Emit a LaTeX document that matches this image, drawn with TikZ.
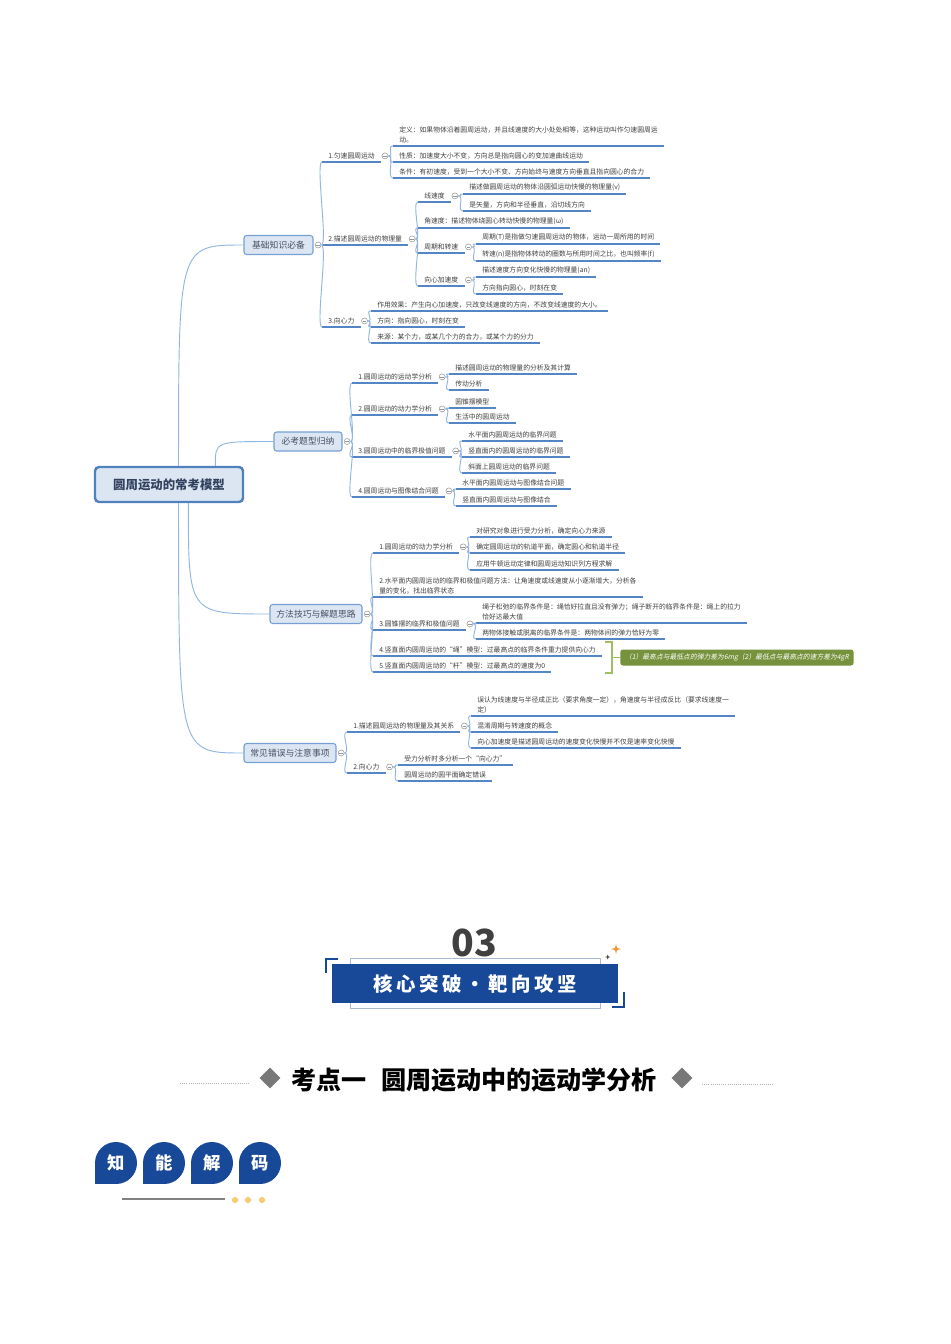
\documentclass[tikz,border=0pt]{standalone}
\usepackage{fontspec}
\usepackage{tikz}
\usetikzlibrary{positioning,shapes.geometric}
\setmainfont{Noto Sans CJK SC}
\newfontfamily\slantcjk[FakeSlant=0.2]{Noto Sans CJK SC}
\newfontfamily\spacedcjk[LetterSpace=18]{Noto Sans CJK SC}

\definecolor{txt}{RGB}{64,64,64}
\definecolor{ulblue}{RGB}{84,133,196}
\definecolor{twigblue}{RGB}{146,182,226}
\definecolor{boxfill}{RGB}{220,230,242}
\definecolor{boxline}{RGB}{118,160,212}
\definecolor{boxtxt}{RGB}{70,80,100}
\definecolor{rootline}{RGB}{79,129,189}
\definecolor{roottxt}{RGB}{50,65,95}
\definecolor{foldgray}{RGB}{150,150,150}
\definecolor{sumgreen}{RGB}{118,146,60}
\definecolor{bracegreen}{RGB}{160,190,100}
\definecolor{navy}{RGB}{24,72,152}
\definecolor{framegray}{RGB}{170,185,210}
\definecolor{dotyellow}{RGB}{248,204,110}
\definecolor{sparkorange}{RGB}{236,150,50}

\newcommand{\leaffont}{\fontsize{5.1}{7.2}\selectfont}
\newcommand{\topicfont}{\fontsize{6.6}{8}\selectfont}

\tikzset{
  ul/.style={draw=ulblue, line width=1.1pt},
  twig/.style={draw=twigblue, line width=0.7pt},
  br/.style={out=0, in=180, distance=5pt},
  elbow/.style={to path={.. controls (\tikztostart |- \tikztotarget) .. (\tikztotarget)}},
  leaf/.style={anchor=south west, inner xsep=4.5pt, inner ysep=2pt, align=left,
    font=\leaffont, text=txt,
    append after command={(\tikzlastnode.south west) edge[ul] (\tikzlastnode.south east)}},
  fold/.style={circle, draw=foldgray, line width=0.4pt, fill=white, minimum size=4.5pt, inner sep=0pt,
    path picture={\draw[foldgray, line width=0.4pt] ([xshift=0.9pt]path picture bounding box.west) -- ([xshift=-0.9pt]path picture bounding box.east);}},
  topic/.style={rectangle, rounded corners=2pt, fill=boxfill, draw=boxline, line width=0.8pt,
    minimum height=14.25pt, inner xsep=2pt, font=\topicfont, text=boxtxt},
  rootbox/.style={rectangle, rounded corners=3pt, fill=boxfill, draw=rootline, line width=1.8pt,
    minimum width=111pt, minimum height=26.25pt, font=\bfseries\fontsize{9.3}{11}\selectfont, text=roottxt},
  sumbox/.style={rectangle, rounded corners=2pt, fill=sumgreen, text=white, minimum width=175pt,
    minimum height=12pt, inner sep=0pt, font=\slantcjk\leaffont},
  sumbrace/.style={draw=bracegreen, line width=1.3pt},
  badge/.style={circle, fill=navy, minimum size=31.5pt, inner sep=0pt, text=white,
    font=\bfseries\fontsize{13}{13}\selectfont},
  dia/.style={diamond, fill={rgb,255:red,120;green,120;blue,120}, minimum width=15.75pt, minimum height=15.75pt, inner sep=0pt},
}

\begin{document}
\begin{tikzpicture}[x=0.75pt, y=-0.75pt]
        \fill[white] (0,0) rectangle (950,1344);
        \useasboundingbox (0,0) rectangle (950,1344);

        \node[rootbox] (root) at (169,484.5) {圆周运动的常考模型};
        \node[topic, minimum width=51.75pt] (base) at (278.5,245) {基础知识必备};
        \node[topic, minimum width=51pt] (must) at (308,441.5) {必考题型归纳};
        \node[topic, minimum width=69pt] (skill) at (316,614) {方法技巧与解题思路};
        \node[topic, minimum width=69pt] (error) at (290,753) {常见错误与注意事项};
        \node[fold, right=1pt of base] (basef) {};
        \node[fold, right=1pt of must] (mustf) {};
        \node[fold, right=1pt of skill] (skillf) {};
        \node[fold, right=1pt of error] (errorf) {};
        \draw[twig] (root.63) to[elbow] (base.west);
        \draw[twig] (root.22) to[elbow] (must.west);
        \draw[twig] (root.-44) to[elbow] (skill.west);
        \draw[twig] (root.-63) to[elbow] (error.west);

        \node[leaf] (a1) at (322,162) {1.匀速圆周运动};
        \node[leaf] (a2) at (322,245) {2.描述圆周运动的物理量};
        \node[leaf] (a3) at (322,327) {3.向心力};
        \node[fold, right=0.5pt of a1] (a1f) {};
        \node[fold, right=0.5pt of a2] (a2f) {};
        \node[fold, right=0.5pt of a3] (a3f) {};
        \node[leaf] (a11) at (393,146) {定义：如果物体沿着圆周运动，并且线速度的大小处处相等，这种运动叫作匀速圆周运\\动。};
        \node[leaf] (a12) at (393,162) {性质：加速度大小不变，方向总是指向圆心的变加速曲线运动};
        \node[leaf] (a13) at (393,178) {条件：有初速度，受到一个大小不变、方向始终与速度方向垂直且指向圆心的合力};
        \node[leaf] (a21) at (418,202) {线速度};
        \node[leaf] (a22) at (418,228) {角速度：描述物体绕圆心转动快慢的物理量(ω)};
        \node[leaf] (a23) at (418,253) {周期和转速};
        \node[leaf] (a24) at (418,286) {向心加速度};
        \node[fold, right=0.5pt of a21] (a21f) {};
        \node[fold, right=0.5pt of a23] (a23f) {};
        \node[fold, right=0.5pt of a24] (a24f) {};
        \node[leaf] (a211) at (463,194) {描述做圆周运动的物体沿圆弧运动快慢的物理量(v)};
        \node[leaf] (a212) at (463,211) {是矢量，方向和半径垂直，沿切线方向};
        \node[leaf] (a231) at (476,244) {周期(T)是指做匀速圆周运动的物体，运动一周所用的时间};
        \node[leaf] (a232) at (476,261) {转速(n)是指物体转动的圈数与所用时间之比，也叫频率(f)};
        \node[leaf] (a241) at (476,277) {描述速度方向变化快慢的物理量(an)};
        \node[leaf] (a242) at (476,294) {方向指向圆心，时刻在变};
        \node[leaf] (a31) at (371,311) {作用效果：产生向心加速度，只改变线速度的方向，不改变线速度的大小。};
        \node[leaf] (a32) at (371,327) {方向：指向圆心，时刻在变};
        \node[leaf] (a33) at (371,343) {来源：某个力，或某几个力的合力，或某个力的分力};
        \draw[twig] (basef.east) to[br] (a1.south west) (basef.east) to[br] (a2.south west) (basef.east) to[br] (a3.south west);
        \draw[twig] (a1f.east) to[br] (a11.south west) (a1f.east) to[br] (a12.south west) (a1f.east) to[br] (a13.south west);
        \draw[twig] (a2f.east) to[br] (a21.south west) (a2f.east) to[br] (a22.south west) (a2f.east) to[br] (a23.south west) (a2f.east) to[br] (a24.south west);
        \draw[twig] (a21f.east) to[br] (a211.south west) (a21f.east) to[br] (a212.south west);
        \draw[twig] (a23f.east) to[br] (a231.south west) (a23f.east) to[br] (a232.south west);
        \draw[twig] (a24f.east) to[br] (a241.south west) (a24f.east) to[br] (a242.south west);
        \draw[twig] (a3f.east) to[br] (a31.south west) (a3f.east) to[br] (a32.south west) (a3f.east) to[br] (a33.south west);

        \node[leaf] (b1) at (352,383) {1.圆周运动的运动学分析};
        \node[leaf] (b2) at (352,415) {2.圆周运动的动力学分析};
        \node[leaf] (b3) at (352,457) {3.圆周运动中的临界极值问题};
        \node[leaf] (b4) at (352,497) {4.圆周运动与图像结合问题};
        \node[fold, right=0.5pt of b1] (b1f) {};
        \node[fold, right=0.5pt of b2] (b2f) {};
        \node[fold, right=0.5pt of b3] (b3f) {};
        \node[fold, right=0.5pt of b4] (b4f) {};
        \node[leaf] (b11) at (449,374) {描述圆周运动的物理量的分析及其计算};
        \node[leaf] (b12) at (449,390) {传动分析};
        \node[leaf] (b21) at (449,408) {圆锥摆模型};
        \node[leaf] (b22) at (449,423) {生活中的圆周运动};
        \node[leaf] (b31) at (462,441) {水平面内圆周运动的临界问题};
        \node[leaf] (b32) at (462,457) {竖直面内的圆周运动的临界问题};
        \node[leaf] (b33) at (462,473) {斜面上圆周运动的临界问题};
        \node[leaf] (b41) at (456,489) {水平面内圆周运动与图像结合问题};
        \node[leaf] (b42) at (456,506) {竖直面内圆周运动与图像结合};
        \draw[twig] (mustf.east) to[br] (b1.south west) (mustf.east) to[br] (b2.south west) (mustf.east) to[br] (b3.south west) (mustf.east) to[br] (b4.south west);
        \draw[twig] (b1f.east) to[br] (b11.south west) (b1f.east) to[br] (b12.south west);
        \draw[twig] (b2f.east) to[br] (b21.south west) (b2f.east) to[br] (b22.south west);
        \draw[twig] (b3f.east) to[br] (b31.south west) (b3f.east) to[br] (b32.south west) (b3f.east) to[br] (b33.south west);
        \draw[twig] (b4f.east) to[br] (b41.south west) (b4f.east) to[br] (b42.south west);

        \node[leaf] (c1) at (373,553) {1.圆周运动的动力学分析};
        \node[leaf] (c2) at (373,597) {2.水平面内圆周运动的临界和极值问题方法：让角速度或线速度从小逐渐增大，分析各\\量的变化，找出临界状态};
        \node[leaf] (c3) at (373,630) {3.圆锥摆的临界和极值问题};
        \node[leaf] (c4) at (373,656) {4.竖直面内圆周运动的“绳”模型：过最高点的临界条件重力提供向心力};
        \node[leaf] (c5) at (373,672) {5.竖直面内圆周运动的“杆”模型：过最高点的速度为0};
        \node[fold, right=0.5pt of c1] (c1f) {};
        \node[fold, right=0.5pt of c3] (c3f) {};
        \node[leaf] (c11) at (470,537) {对研究对象进行受力分析，确定向心力来源};
        \node[leaf] (c12) at (470,553) {确定圆周运动的轨道平面，确定圆心和轨道半径};
        \node[leaf] (c13) at (470,570) {应用牛顿运动定律和圆周运动知识列方程求解};
        \node[leaf] (c31) at (476,623) {绳子松弛的临界条件是：绳恰好拉直且没有弹力；绳子断开的临界条件是：绳上的拉力\\恰好达最大值};
        \node[leaf] (c32) at (476,639) {两物体接触或脱离的临界条件是：两物体间的弹力恰好为零};
        \draw[twig] (skillf.east) to[br] (c1.south west) (skillf.east) to[br] (c2.south west) (skillf.east) to[br] (c3.south west) (skillf.east) to[br] (c4.south west) (skillf.east) to[br] (c5.south west);
        \draw[twig] (c1f.east) to[br] (c11.south west) (c1f.east) to[br] (c12.south west) (c1f.east) to[br] (c13.south west);
        \draw[twig] (c3f.east) to[br] (c31.south west) (c3f.east) to[br] (c32.south west);
        \node[sumbox, anchor=west] (sum) at (620,657.5) {（1）最高点与最低点的弹力差为6mg（2）最低点与最高点的速方差为4gR};
        \coordinate (brace) at (612,657.5);
        \draw[sumbrace] (605,642) -| (612,673) -- (605,673);
        \draw[sumbrace] (brace) -- (sum.west);

        \node[leaf] (d1) at (347,732) {1.描述圆周运动的物理量及其关系};
        \node[leaf] (d2) at (347,773) {2.向心力};
        \node[fold, right=0.5pt of d1] (d1f) {};
        \node[fold, right=0.5pt of d2] (d2f) {};
        \node[leaf] (d11) at (471,716) {误认为线速度与半径成正比（要求角度一定），角速度与半径成反比（要求线速度一\\定）};
        \node[leaf] (d12) at (471,732) {混淆周期与转速度的概念};
        \node[leaf] (d13) at (471,748) {向心加速度是描述圆周运动的速度变化快慢并不仅是速率变化快慢};
        \node[leaf] (d21) at (398,765) {受力分析时多分析一个“向心力”};
        \node[leaf] (d22) at (398,781) {圆周运动的圆平面确定错误};
        \draw[twig] (errorf.east) to[br] (d1.south west) (errorf.east) to[br] (d2.south west);
        \draw[twig] (d1f.east) to[br] (d11.south west) (d1f.east) to[br] (d12.south west) (d1f.east) to[br] (d13.south west);
        \draw[twig] (d2f.east) to[br] (d21.south west) (d2f.east) to[br] (d22.south west);

        \node[text=txt, font=\bfseries\fontsize{28}{30}\selectfont] (num) at (474,943) {03};
        \draw[framegray, line width=0.7pt] (350,958) rectangle (600,1008);
        \node[fill=navy, minimum width=214.5pt, minimum height=29.25pt, inner sep=0pt, text=white,
            font=\spacedcjk\bfseries\fontsize{14.6}{16}\selectfont] (banner) at (475,983.5) {核心突破・靶向攻坚};
        \draw[navy, line width=1.6pt] (326,973) -- (326,959) -- (338,959);
        \draw[navy, line width=1.6pt] (612,1007) -- (624,1007) -- (624,992);
        \fill[sparkorange] (616,944) -- (617,948) -- (621,949) -- (617,950) -- (616,954) -- (615,950) -- (611,949) -- (615,948) -- cycle;
        \fill[txt] (607.7,954.5) -- (608.3,956.4) -- (610.2,957) -- (608.3,957.6) -- (607.7,959.5) -- (607.1,957.6) -- (605.2,957) -- (607.1,956.4) -- cycle;

        \node[font=\bfseries\fontsize{18.8}{20}\selectfont] (title) at (474,1080) {考点一\hspace{0.6em}圆周运动中的运动学分析};
        \node[dia] (dl) at (270,1078) {};
        \node[dia] (dr) at (682,1078) {};
        \draw[gray!60, line width=0.6pt, densely dotted] (180,1083) -- (250,1083);
        \draw[gray!60, line width=0.6pt, densely dotted] (702,1084) -- (773,1084);

        \fill[navy] (95,1163) rectangle (116,1184);
        \fill[navy] (143,1163) rectangle (164,1184);
        \fill[navy] (191,1163) rectangle (212,1184);
        \fill[navy] (239,1163) rectangle (260,1184);
        \node[badge] (zhi) at (116,1163) {知};
        \node[badge] (neng) at (164,1163) {能};
        \node[badge] (jie) at (212,1163) {解};
        \node[badge] (ma) at (260,1163) {码};
        \draw[gray, line width=1pt] (122,1199) -- (225,1199);
        \fill[dotyellow] (235,1200) circle[radius=2.3pt];
        \fill[dotyellow] (248,1200) circle[radius=2.3pt];
        \fill[dotyellow] (262,1200) circle[radius=2.3pt];
    \end{tikzpicture}
\end{document}
